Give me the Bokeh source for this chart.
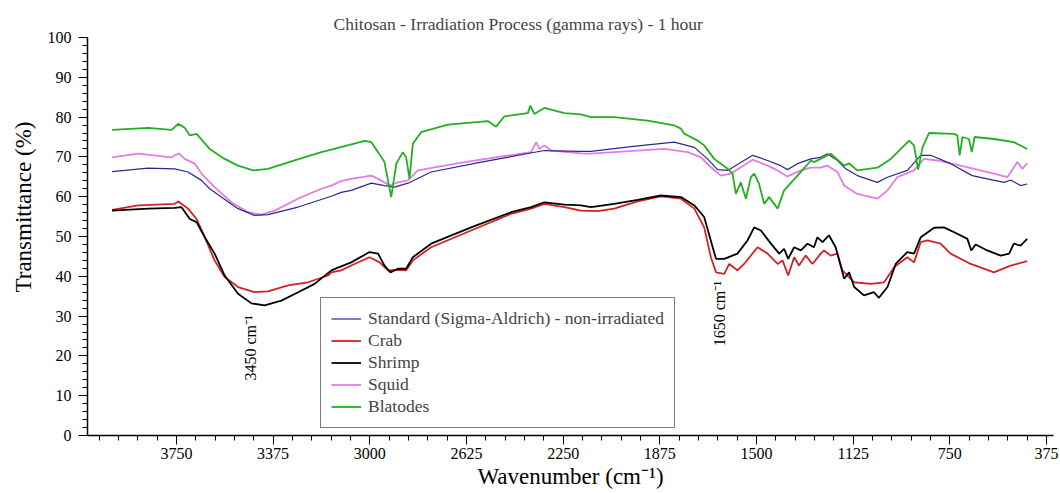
import math
from bokeh.plotting import figure
from bokeh.models import Range1d, FixedTicker, SingleIntervalTicker, Label, Legend, LegendItem, Title
from bokeh.embed import file_html
from bokeh.resources import INLINE

# ---------------- data ----------------
std_wn = [4000, 3860, 3757, 3705, 3653, 3621, 3576, 3511, 3447, 3395, 3278, 3149, 3111, 3072, 2994, 2943,
          2904, 2852, 2762, 2568, 2323, 2181, 2142, 1987, 1819, 1741, 1690, 1651, 1612, 1574, 1515, 1457,
          1406, 1380, 1341, 1289, 1251, 1225, 1186, 1154, 1109, 1031, 992, 915, 863, 824, 747, 663, 605,
          540, 514, 476, 450]
std_t = [66.3, 67.2, 67.0, 66.2, 64.1, 62.0, 59.9, 57.0, 55.3, 55.5, 57.4, 60.1, 61.1, 61.6, 63.4, 62.8,
         62.4, 63.4, 66.2, 68.7, 71.6, 71.4, 71.4, 72.6, 73.7, 72.4, 69.5, 66.8, 66.6, 68.1, 70.4, 69.1,
         67.8, 66.8, 68.3, 69.5, 69.9, 70.8, 69.1, 67.0, 65.3, 63.6, 64.9, 66.6, 70.4, 70.4, 68.3, 65.3, 64.5,
         63.6, 64.2, 62.8, 63.2]

crab_wn = [4000, 3898, 3757, 3743, 3705, 3672, 3640, 3602, 3563, 3511, 3447, 3395, 3317, 3240, 3162, 3149,
           3111, 3072, 3001, 2962, 2930, 2891, 2859, 2833, 2762, 2607, 2452, 2374, 2323, 2245, 2181, 2116,
           2052, 1961, 1871, 1793, 1741, 1703, 1677, 1657, 1625, 1606, 1574, 1548, 1496, 1457, 1418, 1399,
           1377, 1354, 1335, 1309, 1283, 1251, 1238, 1212, 1186, 1167, 1121, 1057, 1005, 966, 915, 889, 863,
           837, 786, 747, 669, 579, 514, 450]
crab_t = [56.7, 57.8, 58.2, 58.8, 57.0, 54.4, 49.8, 44.0, 39.8, 37.3, 36.0, 36.2, 37.7, 38.5, 40.2, 41.0,
          41.5, 42.7, 44.8, 43.5, 41.5, 41.6, 41.5, 44.0, 47.3, 51.5, 55.7, 57.0, 58.2, 57.4, 56.5, 56.4,
          57.0, 58.8, 60.1, 59.5, 57.0, 52.3, 44.8, 41.0, 40.6, 43.1, 41.5, 43.1, 47.3, 45.7, 43.1, 44.0,
          40.2, 44.8, 42.7, 45.2, 43.1, 45.7, 46.5, 45.2, 45.7, 41.5, 38.5, 38.1, 38.5, 42.3, 44.8, 43.5, 48.6,
          49.0, 48.2, 45.7, 43.1, 41.0, 42.7, 43.8]

shrimp_wn = [4000, 3860, 3757, 3731, 3698, 3672, 3640, 3602, 3563, 3511, 3459, 3408, 3343, 3278, 3214, 3149,
             3111, 3072, 3001, 2968, 2943, 2920, 2891, 2859, 2833, 2762, 2607, 2452, 2374, 2323, 2245, 2181,
             2142, 2052, 1961, 1871, 1793, 1741, 1703, 1670, 1657, 1625, 1574, 1535, 1509, 1483, 1444, 1412,
             1393, 1377, 1354, 1328, 1302, 1277, 1264, 1244, 1219, 1193, 1160, 1141, 1121, 1083, 1044, 1025,
             992, 960, 915, 889, 863, 811, 773, 721, 682, 667, 650, 605, 553, 520, 502, 476, 450]
shrimp_t = [56.5, 57.0, 57.2, 57.4, 54.4, 53.6, 49.8, 45.7, 40.2, 35.6, 33.2, 32.7, 33.9, 36.0, 38.1, 41.5,
            42.5, 43.5, 46.1, 45.7, 42.7, 41.0, 41.9, 41.9, 44.8, 48.2, 52.3, 56.1, 57.4, 58.6, 58.0, 57.8,
            57.4, 58.2, 59.2, 60.3, 59.9, 57.8, 54.9, 47.3, 44.4, 44.4, 45.7, 49.0, 52.3, 51.5, 48.2, 45.7,
            46.9, 44.4, 47.3, 46.5, 48.2, 47.3, 49.8, 48.6, 50.3, 47.3, 39.4, 41.0, 37.3, 35.2, 36.0, 34.6,
            37.3, 43.1, 46.1, 45.7, 49.8, 52.2, 52.3, 50.7, 49.4, 46.5, 48.0, 46.5, 45.2, 45.7, 48.2, 47.7, 49.4]

squid_wn = [4000, 3898, 3769, 3741, 3718, 3679, 3653, 3602, 3537, 3472, 3421, 3369, 3278, 3188, 3149, 3111,
            3072, 2994, 2956, 2923, 2891, 2852, 2814, 2633, 2374, 2355, 2342, 2323, 2297, 2181, 2142, 2052,
            1858, 1767, 1716, 1677, 1638, 1600, 1561, 1515, 1457, 1418, 1380, 1328, 1289, 1251, 1225, 1186,
            1160, 1109, 1031, 992, 954, 889, 850, 799, 709, 579, 527, 488, 469, 450]
squid_t = [69.9, 70.8, 69.9, 70.9, 69.5, 68.3, 65.8, 62.4, 58.6, 56.1, 55.5, 56.5, 59.5, 62.0, 62.8, 63.9,
           64.5, 65.3, 64.1, 62.8, 63.6, 64.1, 66.6, 68.7, 71.2, 73.7, 72.0, 72.9, 71.6, 70.9, 70.8, 71.2,
           72.0, 71.2, 69.9, 67.4, 65.3, 65.8, 67.4, 69.3, 67.8, 66.6, 65.1, 66.6, 67.3, 67.3, 67.8, 66.2,
           62.8, 60.7, 59.5, 61.6, 64.9, 66.6, 69.5, 69.1, 67.8, 65.8, 64.9, 68.7, 67.0, 68.4]

blat_wn = [4000, 3860, 3769, 3743, 3718, 3698, 3672, 3621, 3563, 3511, 3453, 3395, 3292, 3188, 3149, 3020,
           2994, 2968, 2943, 2917, 2897, 2872, 2859, 2846, 2833, 2801, 2697, 2542, 2510, 2478, 2387, 2377,
           2362, 2323, 2245, 2181, 2142, 2052, 1922, 1819, 1793, 1780, 1728, 1703, 1664, 1612, 1593, 1580,
           1561, 1541, 1522, 1509, 1490, 1470, 1451, 1418, 1393, 1341, 1289, 1277, 1212, 1160, 1141, 1109,
           1031, 979, 908, 889, 873, 856, 831, 734, 721, 712, 701, 676, 665, 654, 579, 502, 450]
blat_t = [76.8, 77.3, 76.8, 78.3, 77.3, 75.4, 75.8, 72.0, 69.5, 67.8, 66.6, 67.0, 69.1, 71.2, 71.8, 74.0,
          73.7, 71.2, 68.7, 59.9, 68.3, 71.2, 69.9, 64.5, 73.3, 76.2, 78.1, 79.0, 77.6, 80.2, 81.0, 82.9,
          80.8, 82.3, 81.0, 80.7, 80.0, 80.0, 79.1, 77.9, 77.1, 75.8, 74.1, 72.9, 69.5, 67.0, 65.8, 60.7,
          63.6, 59.5, 64.9, 65.8, 63.2, 58.2, 59.9, 57.0, 61.6, 65.3, 69.1, 68.7, 70.8, 67.8, 68.4, 66.6,
          67.3, 69.5, 74.1, 72.9, 66.8, 72.4, 76.0, 75.8, 75.4, 70.4, 75.0, 74.5, 71.2, 75.0, 74.5, 73.7, 72.0]

series_names = ["Standard (Sigma-Aldrich) - non-irradiated", "Crab", "Shrimp", "Squid", "Blatodes"]
x_major = [3750, 3375, 3000, 2625, 2250, 1875, 1500, 1125, 750, 375]
x_minor = list(range(4050, 374, -75))

SERIF = "Liberation Serif"

p = figure(width=1060, height=493, x_range=Range1d(4095, 348), y_range=Range1d(0, 100),
           output_backend="svg", toolbar_location=None,
           min_border_left=86, min_border_right=7, min_border_top=37, min_border_bottom=58,
           background_fill_color="white", border_fill_color="white")
p.outline_line_color = None
p.xgrid.grid_line_color = None
p.ygrid.grid_line_color = None

p.title.text = "Chitosan - Irradiation Process (gamma rays) - 1 hour"
p.title.text_font = SERIF
p.title.text_font_size = "17.5px"
p.title.text_font_style = "normal"
p.title.align = "left"
p.title.offset = 246
p.title.standoff = 8

for ax in (p.xaxis[0], p.yaxis[0]):
    ax.axis_line_color = "black"
    ax.axis_line_width = 1.5
    ax.major_tick_line_color = "black"
    ax.minor_tick_line_color = "black"
    ax.major_tick_in = 0
    ax.major_tick_out = 9
    ax.minor_tick_in = 0
    ax.minor_tick_out = 5
    ax.major_label_text_font = SERIF
    ax.major_label_text_font_size = "16px"
    ax.major_label_text_color = "black"

p.xaxis[0].ticker = FixedTicker(ticks=x_major, minor_ticks=x_minor)
p.xaxis[0].major_label_standoff = 3
p.xaxis[0].axis_label = "Wavenumber (cm\u207b\u00b9)"
p.xaxis[0].axis_label_text_font = SERIF
p.xaxis[0].axis_label_text_font_size = "23px"
p.xaxis[0].axis_label_text_font_style = "normal"
p.xaxis[0].axis_label_text_color = "black"
p.xaxis[0].axis_label_standoff = 2

p.yaxis[0].ticker = SingleIntervalTicker(interval=10, num_minor_ticks=5)
p.yaxis[0].major_label_standoff = 7

ytitle = Title(text="Transmittance (%)", align="left", offset=143, standoff=17,
               text_font=SERIF, text_font_size="23px", text_font_style="normal", text_color="black")
p.add_layout(ytitle, "left")

colors = ["#2a2a8c", "#d42222", "#000000", "#e27ee2", "#22b022"]
widths = [1.2, 1.8, 1.8, 1.8, 1.8]
data = [(std_wn, std_t), (crab_wn, crab_t), (shrimp_wn, shrimp_t), (squid_wn, squid_t), (blat_wn, blat_t)]

renderers = [None] * 5
for i in [3, 0, 1, 2, 4]:
    xs, ys = data[i]
    renderers[i] = p.line(xs, ys, line_color=colors[i], line_width=widths[i])

legend = Legend(items=[LegendItem(label=series_names[i], renderers=[renderers[i]]) for i in range(5)],
                location=(233, 7), margin=0, padding=10, spacing=1,
                glyph_width=30, glyph_height=21, label_height=21, label_standoff=7,
                label_text_font=SERIF, label_text_font_size="17.5px",
                border_line_color="black", border_line_width=1,
                background_fill_color="white", background_fill_alpha=1.0)
p.add_layout(legend, "center")

p.add_layout(Label(x=3463, y=13.8, text="3450 cm\u207b\u00b9", angle=math.pi / 2,
                   text_align="left", text_baseline="middle",
                   text_font=SERIF, text_font_size="16px", text_color="black"))
p.add_layout(Label(x=1642, y=22.4, text="1650 cm\u207b\u00b9", angle=math.pi / 2,
                   text_align="left", text_baseline="middle",
                   text_font=SERIF, text_font_size="16px", text_color="black"))

open("out.html", "w").write(file_html(p, INLINE))
